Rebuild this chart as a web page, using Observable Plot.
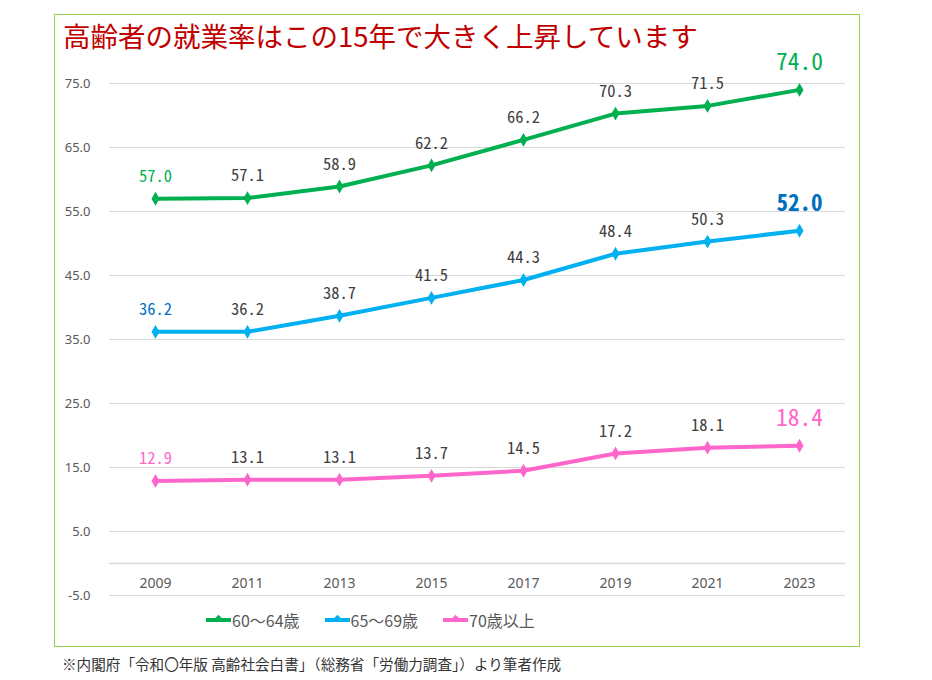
<!DOCTYPE html>
<html>
<head>
<meta charset="utf-8">
<script src="https://cdn.jsdelivr.net/npm/d3@7"></script>
<script src="https://cdn.jsdelivr.net/npm/@observablehq/plot@0.6"></script>
<style>
  body { margin: 0; background: #fff; }
  #wrap { position: relative; width: 932px; height: 680px; overflow: hidden; font-family: "Noto Sans CJK JP", "Noto Sans", sans-serif; }
  #frame { position: absolute; left: 54px; top: 14px; width: 804px; height: 631px; border: 1.5px solid #92d050; }
  #title { position: absolute; left: 63px; top: 16px; font-size: 27.5px; color: #c00000; white-space: nowrap; line-height: 38px; }
  #chart { position: absolute; left: 0; top: 0; }
  #legend { position: absolute; left: 206px; top: 607px; display: flex; gap: 0; font-size: 16px; color: #595959; line-height: 26px; }
  .item { display: flex; align-items: center; margin-right: 25px; }
  .sw { position: relative; width: 25px; height: 4px; margin-right: 1px; }
  .sw i { position: absolute; left: 9px; top: -3px; width: 7px; height: 7px; transform: rotate(45deg) scale(0.75); }
  #caption { position: absolute; left: 62px; top: 653px; font-size: 14.6px; color: #333; white-space: nowrap; line-height: 22px; }
  g[font-family*="CJK"] text { font-feature-settings: "hwid" 1; }
</style>
</head>
<body>
<div id="wrap">
  <div id="frame"></div>
  <div id="chart"></div>
  <div id="title">高齢者の就業率はこの15年で大きく上昇しています</div>
  <div id="legend"></div>
  <div id="caption">※内閣府「令和〇年版 高齢社会白書」（総務省「労働力調査」）より筆者作成</div>
</div>
<script>
const years = ["2009", "2011", "2013", "2015", "2017", "2019", "2021", "2023"];
const seriesNames = ["60～64歳", "65～69歳", "70歳以上"];
const s6064 = [57.0, 57.1, 58.9, 62.2, 66.2, 70.3, 71.5, 74.0];
const s6569 = [36.2, 36.2, 38.7, 41.5, 44.3, 48.4, 50.3, 52.0];
const s70 = [12.9, 13.1, 13.1, 13.7, 14.5, 17.2, 18.1, 18.4];
const yTicks = [75, 65, 55, 45, 35, 25, 15, 5, -5];
const lineColors = ["#00b050", "#00b0f0", "#ff66cc"];
const labelColors = ["#00b050", "#0070c0", "#ff66cc"];

const allSeries = [s6064, s6569, s70];
const data = [];
allSeries.forEach((vals, si) => {
  vals.forEach((v, i) => data.push({ year: years[i], value: v, series: seriesNames[si], si, i }));
});
const last = years.length - 1;

const monoFont = '"Noto Sans CJK JP", "DejaVu Sans Mono", monospace';

const chart = Plot.plot({
  width: 932,
  height: 680,
  marginLeft: 109,
  marginRight: 87,
  marginTop: 83,
  marginBottom: 85,
  style: { fontFamily: '"Noto Sans", sans-serif', background: "transparent" },
  x: { type: "band", domain: years, padding: 0, axis: null },
  y: { domain: [-5, 75], axis: null },
  color: { domain: seriesNames, range: lineColors },
  marks: [
    Plot.ruleY(yTicks, { stroke: "#d9d9d9", strokeWidth: 1 }),
    Plot.ruleY([0], { stroke: "#d9d9d9", strokeWidth: 1.5 }),
    Plot.text(yTicks, { x: () => years[0], y: d => d, text: d => d.toFixed(1), textAnchor: "end", dx: -65, fontSize: 13, fill: "#595959" }),
    Plot.text(years, { x: d => d, y: () => 0, text: d => d, dy: 20, fontSize: 14, fill: "#595959" }),
    Plot.line(data, { x: "year", y: "value", z: "series", stroke: "series", strokeWidth: 4 }),
    Plot.dot(data, { x: "year", y: "value", fill: "series", symbol: "diamond", r: 4.2, stroke: null }),
    Plot.text(data.filter(d => d.i > 0 && d.i < last), { x: "year", y: "value", text: d => d.value.toFixed(1), dy: -22, fontSize: 16.5, fill: "#404040", fontFamily: monoFont }),
    Plot.text(data.filter(d => d.i === 0), { x: "year", y: "value", text: d => d.value.toFixed(1), dy: -22, fontSize: 16.5, fill: d => labelColors[d.si], fontFamily: monoFont }),
    Plot.text(data.filter(d => d.i === last && d.si !== 1), { x: "year", y: "value", text: d => d.value.toFixed(1), dy: -27, fontSize: 23.5, fill: d => labelColors[d.si], fontFamily: monoFont }),
    Plot.text(data.filter(d => d.i === last && d.si === 1), { x: "year", y: "value", text: d => d.value.toFixed(1), dy: -27, fontSize: 23, fontWeight: "bold", fill: d => labelColors[d.si], fontFamily: monoFont })
  ]
});
document.getElementById("chart").appendChild(chart);

const legend = document.getElementById("legend");
seriesNames.forEach((name, k) => {
  const item = document.createElement("div");
  item.className = "item";
  item.innerHTML = `<span class="sw" style="background:${lineColors[k]}"><i style="background:${lineColors[k]}"></i></span><span>${name}</span>`;
  legend.appendChild(item);
});
</script>
</body>
</html>
